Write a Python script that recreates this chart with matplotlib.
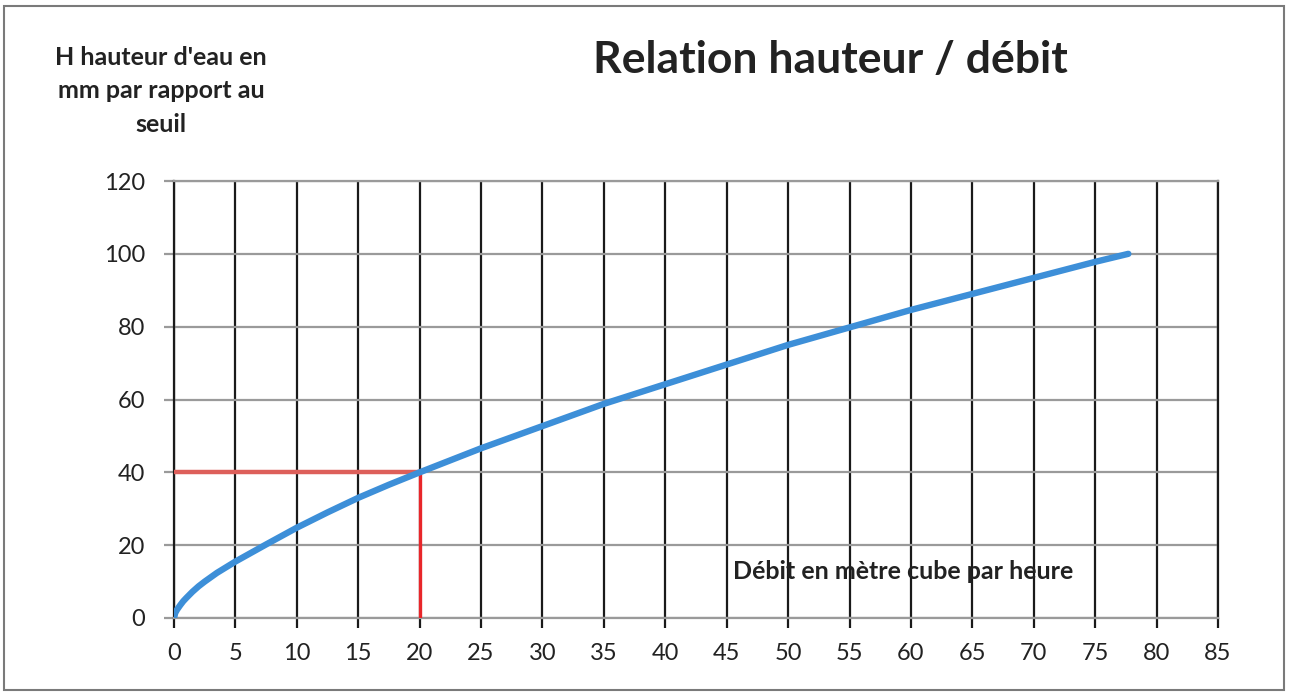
import numpy as np
import matplotlib.pyplot as plt
from matplotlib.patches import Rectangle

# débit (m3/h) et hauteur d'eau (mm)
debit = [0, 0.1, 0.25, 0.5, 0.75, 1, 1.5, 2, 2.5, 3.5, 5, 7.5, 10, 12.5, 15, 17.5,
         20, 25, 30, 35, 40, 45, 50, 55, 60, 65, 70, 75, 77.7]
hauteur = [0, 1.4, 2.3, 3.5, 4.6, 5.5, 7.2, 8.7, 10.0, 12.4, 15.5, 20.2, 24.8, 29.0,
           33.0, 36.6, 40.0, 46.6, 52.7, 58.8, 64.2, 69.6, 75.0, 79.8, 84.6, 89.0,
           93.4, 97.8, 100.0]

# point de lecture
q_lu = 20
h_lu = 40

xticks = list(range(0, 90, 5))
yticks = list(range(0, 140, 20))

plt.rcParams['font.family'] = ['Lato', 'DejaVu Sans']

fig = plt.figure(figsize=(12.9, 6.93), dpi=100)
ax = fig.add_axes([174/1290, 1 - 618/693, (1218 - 174)/1290, (618 - 181)/693])

ax.set_xlim(0, 85)
ax.set_ylim(0, 120)
ax.set_xticks(xticks)
ax.set_yticks(yticks)
ax.xaxis.grid(True, color='#1a1a1a', lw=1.6)
ax.yaxis.grid(True, color='#9a9a9a', lw=1.6)
ax.set_axisbelow(True)
for s in ['left', 'right']:
    ax.spines[s].set_color('#1a1a1a')
    ax.spines[s].set_linewidth(1.6)
for s in ['top', 'bottom']:
    ax.spines[s].set_color('#9a9a9a')
    ax.spines[s].set_linewidth(1.6)
ax.tick_params(axis='x', length=7, width=1.6, color='#1a1a1a', pad=11, labelsize=17, labelcolor='#222222')
ax.tick_params(axis='y', length=7, width=1.6, color='#9a9a9a', pad=14, labelsize=17, labelcolor='#222222')

# lecture graphique à 20 m3/h
ax.plot([0, q_lu], [h_lu, h_lu], color='#dd5f5a', lw=3.2, solid_capstyle='butt', zorder=3)
ax.plot([q_lu, q_lu], [0, h_lu], color='#e8262a', lw=2.4, solid_capstyle='butt', zorder=3)

ax.plot(debit, hauteur, color='#3d8fd8', lw=4.6, solid_capstyle='round',
        solid_joinstyle='round', zorder=4)

ax.text(59.4, 12.9, "Débit en mètre cube par heure", fontsize=18, fontweight='bold',
        color='#222222', ha='center', va='center')

fig.text(830/1290, 1 - 60/693, "Relation hauteur / débit", fontsize=32, fontweight='bold',
         color='#222222', ha='center', va='center')
fig.text(161/1290, 1 - 91/693, "H hauteur d'eau en\nmm par rapport au\nseuil", fontsize=18,
         fontweight='bold', color='#222222', ha='center', va='center', linespacing=1.55)

# cadre du graphique
fig.patches.append(Rectangle((4/1290, 3/693), 1280/1290, 684/693, transform=fig.transFigure,
                             fill=False, edgecolor='#7a7a7a', lw=1.5))

fig.savefig('out.png', dpi=100)
